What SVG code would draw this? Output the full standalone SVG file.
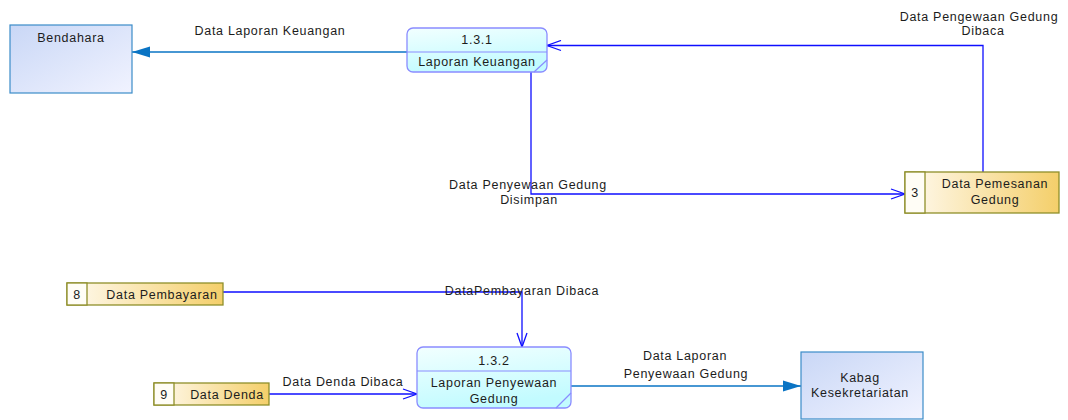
<svg xmlns="http://www.w3.org/2000/svg" width="1068" height="420" viewBox="0 0 1068 420">
  <defs>
    <linearGradient id="gEntity" x1="0" y1="0" x2="1" y2="1">
      <stop offset="0" stop-color="#c9d7f6"/>
      <stop offset="1" stop-color="#f1f3ff"/>
    </linearGradient>
    <linearGradient id="gProc" x1="0" y1="0" x2="0.3" y2="1">
      <stop offset="0" stop-color="#f2ffff"/>
      <stop offset="1" stop-color="#c2fbff"/>
    </linearGradient>
    <linearGradient id="gStore" x1="0" y1="0" x2="1" y2="0">
      <stop offset="0" stop-color="#fffaf0"/>
      <stop offset="1" stop-color="#f4cf6a"/>
    </linearGradient>
    <marker id="open" markerWidth="18" markerHeight="12" refX="16" refY="6" orient="auto" markerUnits="userSpaceOnUse">
      <path d="M2,1 L16,6 L2,11" fill="none" stroke="#0f0fff" stroke-width="1.3"/>
    </marker>
    <marker id="solid" markerWidth="20" markerHeight="12" refX="18" refY="6" orient="auto" markerUnits="userSpaceOnUse">
      <path d="M0,0.5 L18,6 L0,11.5 Z" fill="#0a74c4"/>
    </marker>
  </defs>
  <style>
    text { font-family: "Liberation Sans", Arial, sans-serif; font-size: 12.5px; fill: #1c1c1c; letter-spacing: 0.7px; }
    .c { text-anchor: middle; }
    .entity { fill: url(#gEntity); stroke: #3b8cc9; stroke-width: 1.2; }
    .proc { fill: url(#gProc); stroke: #8a8cff; stroke-width: 1.3; }
    .procline { stroke: #8a8cff; stroke-width: 1.2; fill: none; }
    .store { fill: url(#gStore); stroke: #8f8f2a; stroke-width: 1.3; }
    .storeid { fill: #fffdf6; stroke: #8f8f2a; stroke-width: 1.3; }
    .flow { fill: none; stroke: #0f0fff; stroke-width: 1.3; marker-end: url(#open); }
    .out { fill: none; stroke: #0a74c4; stroke-width: 1.4; marker-end: url(#solid); }
  </style>

  <!-- connectors -->
  <g id="connectors">
    <path class="out" d="M407,52 L132,52"/>
    <path class="flow" d="M531,72 L531,194 L905,194"/>
    <path class="flow" d="M983,172 L983,45.5 L547,45.5"/>
    <path class="flow" d="M223,292 L522,292 L522,347"/>
    <path class="flow" d="M269,394 L417,394"/>
    <path class="out" d="M571,386 L801,386"/>
    <text class="c" x="270" y="35">Data Laporan Keuangan</text>
    <text class="c" x="979" y="21">Data Pengewaan Gedung</text>
    <text class="c" x="983" y="35">Dibaca</text>
    <text class="c" x="528" y="189">Data Penyewaan Gedung</text>
    <text class="c" x="529" y="204">Disimpan</text>
    <text class="c" x="522" y="295">DataPembayaran Dibaca</text>
    <text class="c" x="343" y="386">Data Denda Dibaca</text>
    <text class="c" x="685" y="360">Data Laporan</text>
    <text class="c" x="686" y="378">Penyewaan Gedung</text>
  </g>

  <g id="bendahara">
    <rect class="entity" x="10" y="25" width="122" height="68"/>
    <text class="c" x="71" y="42">Bendahara</text>
  </g>

  <g id="proc-131">
    <rect class="proc" x="407" y="28" width="140" height="44" rx="6"/>
    <line class="procline" x1="407" y1="52" x2="547" y2="52"/>
    <line class="procline" x1="534" y1="72" x2="547" y2="60"/>
    <text class="c" x="477" y="44">1.3.1</text>
    <text class="c" x="477" y="66">Laporan Keuangan</text>
  </g>

  <g id="store-3">
    <rect class="store" x="905" y="172" width="154" height="41"/>
    <rect class="storeid" x="905" y="172" width="20" height="41"/>
    <text class="c" x="915" y="197">3</text>
    <text class="c" x="995" y="188">Data Pemesanan</text>
    <text class="c" x="995" y="204">Gedung</text>
  </g>

  <g id="store-8">
    <rect class="store" x="67" y="283" width="156" height="22"/>
    <rect class="storeid" x="67" y="283" width="20" height="22"/>
    <text class="c" x="77" y="299">8</text>
    <text class="c" x="162" y="299">Data Pembayaran</text>
  </g>

  <g id="store-9">
    <rect class="store" x="154" y="383" width="115" height="22"/>
    <rect class="storeid" x="154" y="383" width="20" height="22"/>
    <text class="c" x="164" y="399">9</text>
    <text class="c" x="227" y="399">Data Denda</text>
  </g>

  <g id="proc-132">
    <rect class="proc" x="417" y="347" width="154" height="61" rx="6"/>
    <line class="procline" x1="417" y1="371" x2="571" y2="371"/>
    <line class="procline" x1="556" y1="408" x2="571" y2="393"/>
    <text class="c" x="494" y="365">1.3.2</text>
    <text class="c" x="494" y="387">Laporan Penyewaan</text>
    <text class="c" x="494" y="403">Gedung</text>
  </g>

  <g id="kabag">
    <rect class="entity" x="801" y="352" width="122" height="67"/>
    <text class="c" x="860" y="382">Kabag</text>
    <text class="c" x="860" y="397">Kesekretariatan</text>
  </g>
</svg>
